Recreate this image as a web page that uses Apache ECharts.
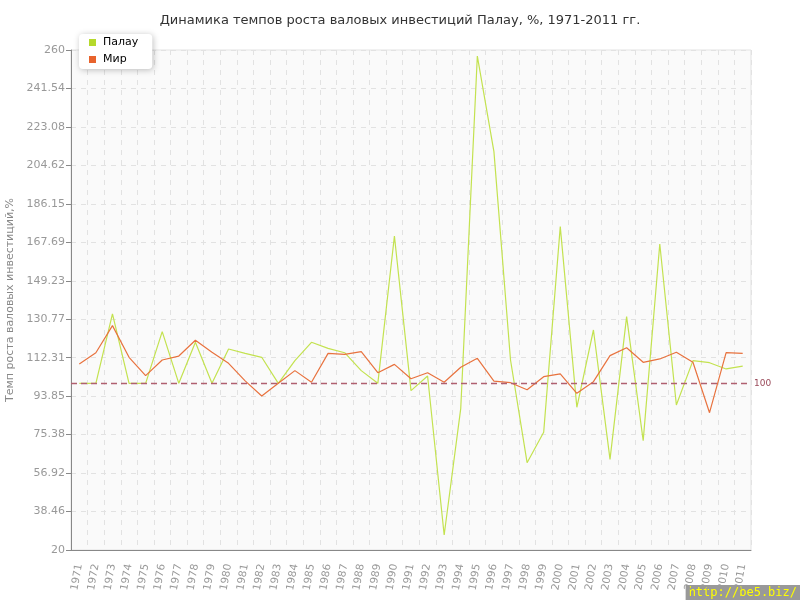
<!DOCTYPE html>
<html><head><meta charset="utf-8">
<script src="https://cdn.jsdelivr.net/npm/echarts@6/dist/echarts.min.js"></script>
<style>html,body{margin:0;padding:0;background:#fff}#c{width:800px;height:600px}</style>
</head><body><div id="c"></div>
<script>
const years = ['1971','1972','1973','1974','1975','1976','1977','1978','1979','1980','1981','1982','1983','1984','1985','1986','1987','1988','1989','1990','1991','1992','1993','1994','1995','1996','1997','1998','1999','2000','2001','2002','2003','2004','2005','2006','2007','2008','2009','2010','2011'];
const palau = [100,100,133.3,100,100,124.8,100,119.7,100,116.5,114.4,112.5,100,110.9,119.7,116.8,114.7,106.1,100,170.7,96.5,103.5,27.2,88,257.1,211.2,111.2,61.9,76.5,175.2,88.5,125.6,63.5,132,72.5,166.9,89.6,110.9,109.9,106.9,108.3];
const world = [109.3,114.7,127.7,112.5,103.7,111.2,113.1,120.7,114.9,109.6,101.2,93.9,100,106.1,100.5,114.4,113.9,115.2,105.1,109.1,102.2,105.1,100.5,107.7,112,101.1,100.3,96.9,103.2,104.5,95.2,100.8,113.3,117.1,110.1,111.7,114.9,110.1,85.9,114.7,114.4];
const seriesNames = ['Палау','Мир'];
const refLine = 100;
const yMin = 20, yMax = 260, yStep = 240/13;

const chart = echarts.init(document.getElementById('c'));
const fmt = v => { const r = Math.round(v*100)/100; return String(r); };
chart.setOption({
  animation:false,
  textStyle:{fontFamily:'DejaVu Sans'},
  title:{text:'Динамика темпов роста валовых инвестиций Палау, %, 1971-2011 гг.',left:'center',top:9,
    textStyle:{fontSize:13,fontWeight:'normal',color:'#333',fontFamily:'DejaVu Sans'}},
  legend:{data:seriesNames,orient:'vertical',left:79,top:34,itemWidth:7,itemHeight:7,itemGap:6,
    icon:'rect',backgroundColor:'#fff',borderRadius:4,padding:[3,14,4,10],
    shadowBlur:6,shadowColor:'rgba(0,0,0,0.25)',shadowOffsetX:1,shadowOffsetY:1,
    textStyle:{fontSize:11,color:'#000',fontFamily:'DejaVu Sans',padding:[0,0,0,2]}},
  grid:{left:71,right:49,top:50,bottom:50,outerBoundsMode:'none',containLabel:false,show:true,backgroundColor:'#fafafa',borderColor:'#e3e3e3',borderWidth:1},
  xAxis:{type:'category',data:years,boundaryGap:true,
    axisLine:{lineStyle:{color:'#888',width:1}},
    axisTick:{alignWithLabel:true,length:5,lineStyle:{color:'#888'}},
    axisLabel:{rotate:80,interval:0,fontSize:10.5,color:'#999',margin:14,fontFamily:'DejaVu Sans'},
    splitLine:{show:true,interval:0,lineStyle:{color:'#e2e2e2',type:[5,5]}}},
  yAxis:{type:'value',min:yMin,max:yMax,interval:yStep,
    name:'Темп роста валовых инвестиций,%',nameLocation:'middle',nameGap:53,
    nameTextStyle:{fontSize:11,color:'#888',fontFamily:'DejaVu Sans'},
    axisLine:{show:true,lineStyle:{color:'#888',width:1}},
    axisTick:{show:true,length:5,lineStyle:{color:'#888'}},
    axisLabel:{formatter:fmt,fontSize:11,color:'#999',margin:6,fontFamily:'DejaVu Sans'},
    splitLine:{show:true,lineStyle:{color:'#e2e2e2',type:[5,5]}}},
  series:[
    {name:seriesNames[0],type:'line',data:palau,symbol:'none',lineStyle:{width:1.2,color:'#c3e24f'},itemStyle:{color:'#b5d92c'},
     markLine:{silent:true,symbol:'none',data:[{yAxis:refLine}],
       lineStyle:{color:'#b06070',type:[6,4],width:1.3},
       label:{position:'end',formatter:String(refLine),fontSize:9,color:'#9a4a5a',distance:3}}},
    {name:seriesNames[1],type:'line',data:world,symbol:'none',lineStyle:{width:1.2,color:'#e8723e'},itemStyle:{color:'#e8632c'}}
  ],
  graphic:[{type:'text',right:0,bottom:0,style:{text:'http://be5.biz/',fill:'#ffff00',font:'12px DejaVu Sans Mono',
    backgroundColor:'#999',padding:[2,3,1,3]}}]
});
</script></body></html>
